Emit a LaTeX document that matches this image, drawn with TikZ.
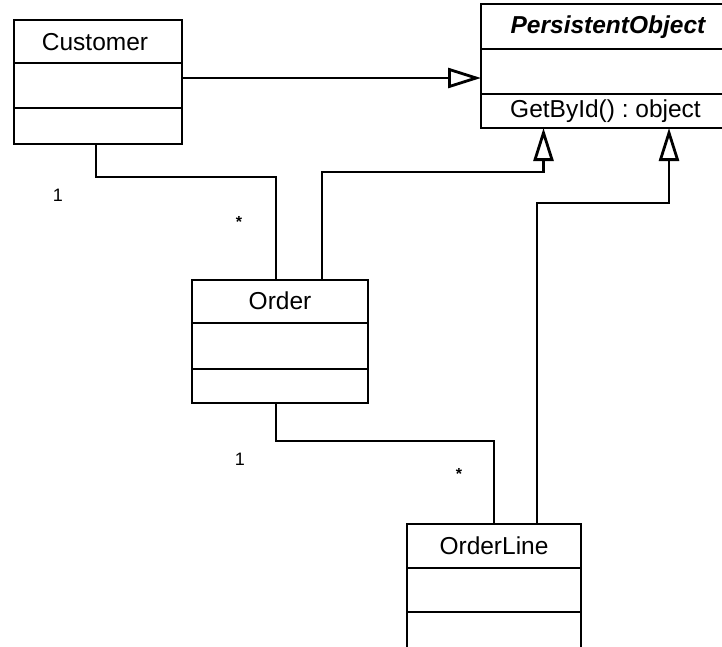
\documentclass[tikz,border=0pt]{standalone}
\usepackage{fontspec}
\setmainfont{Liberation Sans}
\usetikzlibrary{arrows.meta}
\frenchspacing

\begin{document}
\begin{tikzpicture}[
  x=1pt, y=-1pt,
  line width=2.8pt,
  classbox/.style={draw=black, rectangle, inner sep=0pt, outer sep=0pt},
  classname/.style={inner sep=0pt, font=\fontsize{24.5}{28}\selectfont},
  member/.style={inner sep=0pt, font=\fontsize{24.5}{28}\selectfont},
  mult/.style={inner sep=0pt, font=\fontsize{18}{20}\selectfont},
  multstar/.style={inner sep=0pt, font=\fontsize{16}{18}\selectfont\bfseries},
  assoc/.style={draw=black, line width=2.8pt},
  gen/.style={draw=black, line width=2.8pt,
    -{Triangle[open, length=33pt, width=20pt, line width=2.8pt]}},
]
\useasboundingbox (0,0) rectangle (722,646);
\clip (0,0) rectangle (722,646);
\fill[white] (0,0) rectangle (722,646);

% ---- Customer ----
\node[classbox, minimum width=168pt, minimum height=124pt] (cust) at (98,82) {};
\draw (14,63) -- (182,63);
\draw (14,108) -- (182,108);
\node[classname] (custname) at (95,42) {Customer};

% ---- PersistentObject (abstract) ----
\node[classbox, minimum width=255pt, minimum height=124pt] (po) at (608.5,66) {};
\draw (481,49) -- (736,49);
\draw (481,94) -- (736,94);
\node[classname, font=\fontsize{24.5}{28}\selectfont\bfseries\itshape] (poname) at (608,27) {PersistentObject};
\node[member] (pomethod) at (605.5,111) {GetById() : object};

% ---- Order ----
\node[classbox, minimum width=176pt, minimum height=123pt] (order) at (280,341.5) {};
\draw (192,323) -- (368,323);
\draw (192,369) -- (368,369);
\node[classname] (ordername) at (280,301) {Order};

% ---- OrderLine ----
\node[classbox, minimum width=174pt, minimum height=132pt] (ol) at (494,590) {};
\draw (407,568) -- (581,568);
\draw (407,612) -- (581,612);
\node[classname] (olname) at (494,546) {OrderLine};

% ---- Generalisations ----
\coordinate (custout) at ([yshift=4pt]cust.east);
\draw[gen] (custout) -- (custout -| po.west);

\coordinate (orderup) at ([xshift=42pt]order.north);
\coordinate (potipA) at ([xshift=-65pt]po.south);
\coordinate (bendA) at (543.5,172);
\draw[gen] (orderup) |- (bendA) -- (potipA);

\coordinate (olup) at ([xshift=43pt]ol.north);
\coordinate (potipB) at ([xshift=60.5pt]po.south);
\coordinate (bendB) at (669,203);
\draw[gen] (olup) |- (bendB) -- (potipB);

% ---- Associations ----
\coordinate (custdown) at ([xshift=-2pt]cust.south);
\coordinate (orderin) at ([xshift=-4pt]order.north);
\coordinate (bendC) at (96,177);
\coordinate (bendD) at (276,177);
\draw[assoc] (custdown) -- (bendC) -- (bendD) -- (orderin);

\coordinate (orderdown) at ([xshift=-4pt]order.south);
\coordinate (bendE) at (276,441);
\draw[assoc] (orderdown) -- (bendE) -| (ol.north);

% ---- Multiplicities ----
\node[mult] (m1) at (58,195) {1};
\node[multstar] (m2) at (239,222) {*};
\node[mult] (m3) at (240,459) {1};
\node[multstar] (m4) at (459,474) {*};
\end{tikzpicture}
\end{document}
